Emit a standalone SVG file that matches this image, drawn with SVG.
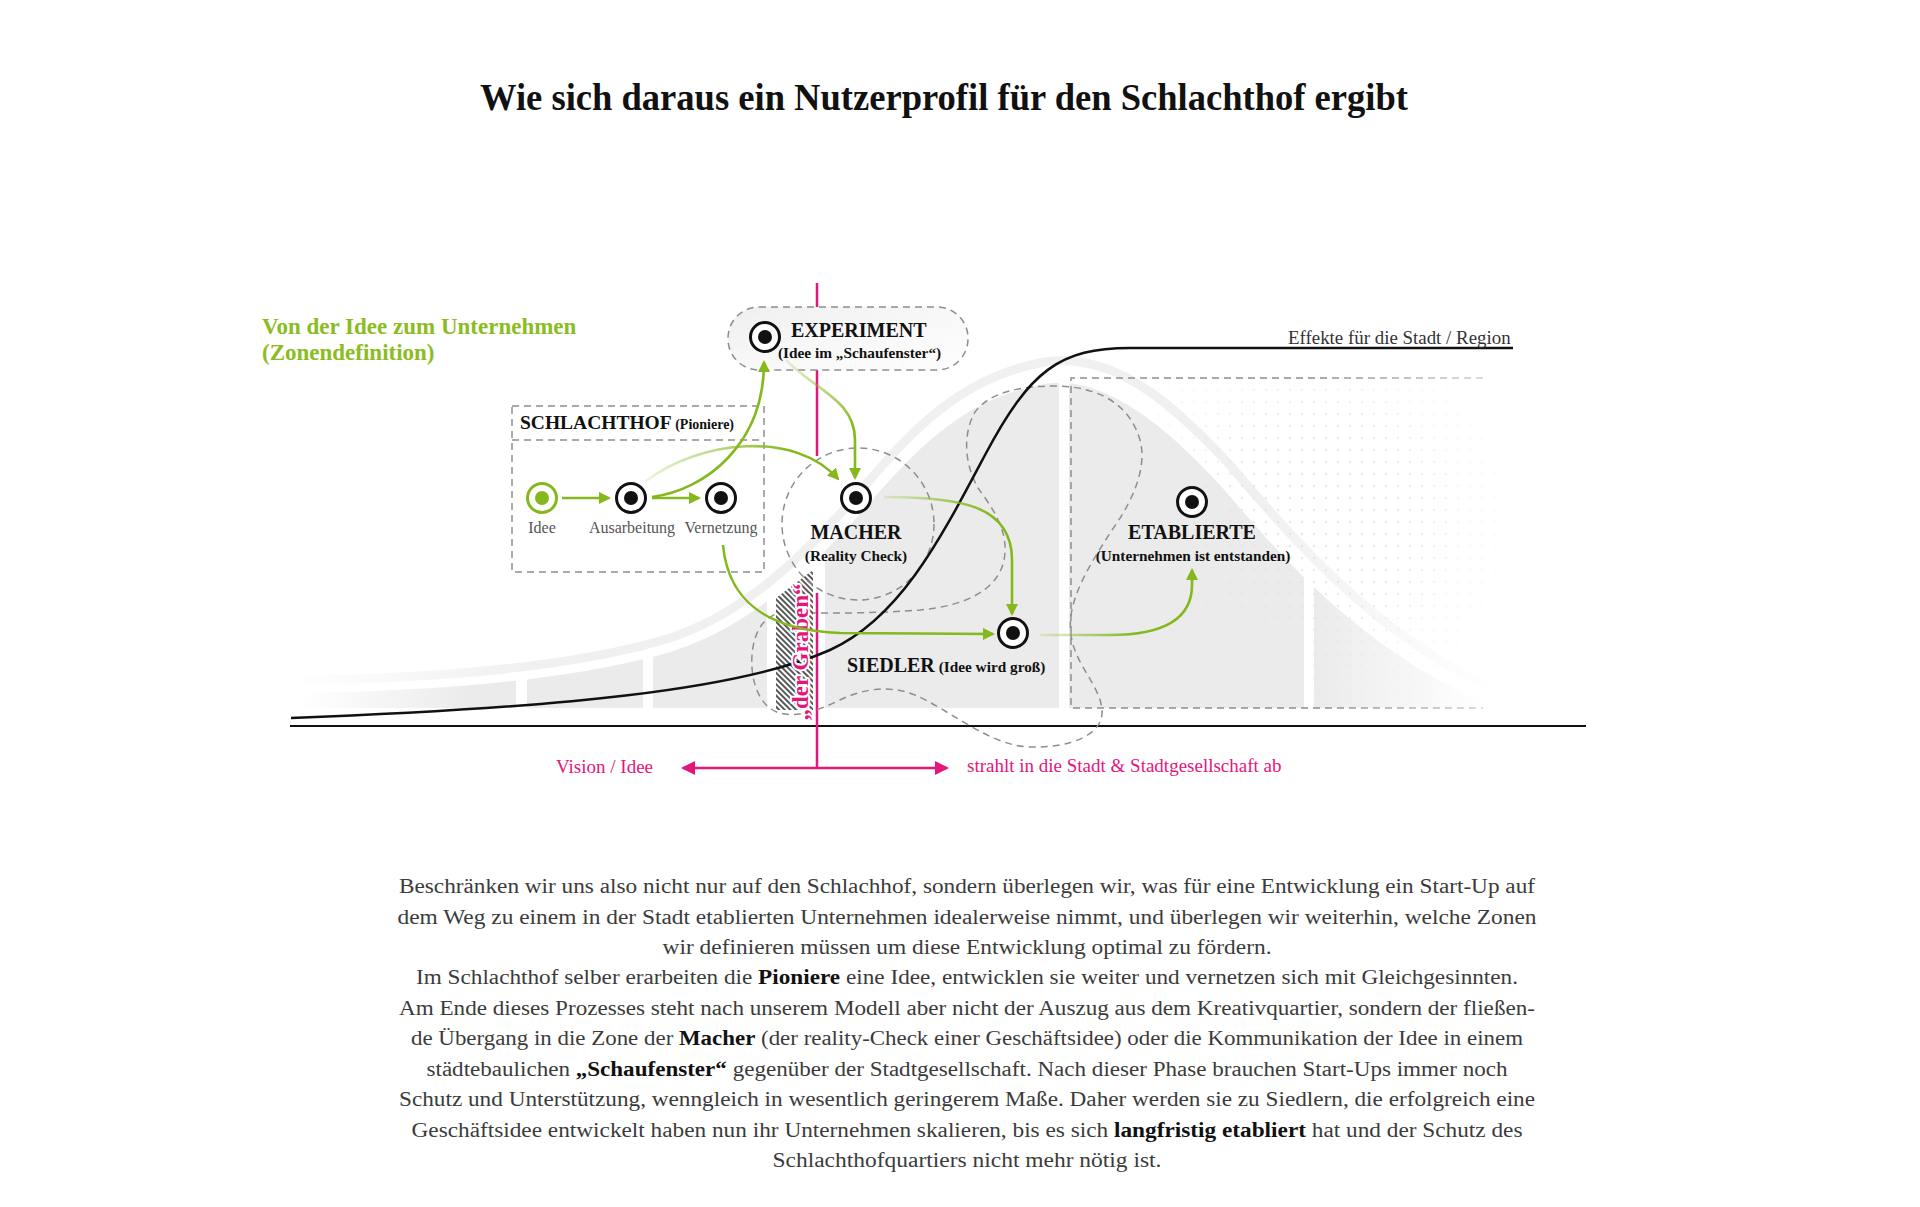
<svg xmlns="http://www.w3.org/2000/svg" width="1920" height="1207" viewBox="0 0 1920 1207">
<defs>
<style>
.dash{fill:none;stroke:#8e8e8e;stroke-width:1.5;stroke-dasharray:7 5}
.ring{fill:#fff;stroke:#111;stroke-width:3}
.dot{fill:#111}
.gring{fill:#fff;stroke:#84b81c;stroke-width:3}
.gdot{fill:#84b81c}
.conn{fill:none;stroke-width:2.6;marker-end:url(#ah)}
.serif{font-family:"Liberation Serif","DejaVu Serif",serif}
.lbl{font-family:"Liberation Serif","DejaVu Serif",serif;font-weight:700;fill:#111}
.big{font-size:20px}
.sub{font-size:15.3px}
.small{font-family:"Liberation Serif","DejaVu Serif",serif;font-size:16px;fill:#555}
.pinktxt{font-family:"Liberation Serif","DejaVu Serif",serif;font-size:19px;fill:#e5157b}
.body{font-family:"Liberation Serif","DejaVu Serif",serif;font-size:20.5px;fill:#3b3b3b}
.b{font-weight:700;fill:#111}
.col{fill:#ebebeb}
</style>
<marker id="ah" viewBox="0 0 12 12" refX="10" refY="6" markerWidth="12" markerHeight="12" markerUnits="userSpaceOnUse" orient="auto"><path d="M0,0 L12,6 L0,12 z" fill="#84b81c"/></marker>
<marker id="ap" viewBox="0 0 14 14" refX="12" refY="7" markerWidth="14" markerHeight="14" markerUnits="userSpaceOnUse" orient="auto-start-reverse"><path d="M0,0 L14,7 L0,14 z" fill="#e5157b"/></marker>
<linearGradient id="gAM" gradientUnits="userSpaceOnUse" x1="646" y1="0" x2="790" y2="0"><stop offset="0" stop-color="#84b81c" stop-opacity="0.15"/><stop offset="1" stop-color="#84b81c"/></linearGradient>
<linearGradient id="gEM" gradientUnits="userSpaceOnUse" x1="0" y1="360" x2="0" y2="425"><stop offset="0" stop-color="#84b81c" stop-opacity="0.15"/><stop offset="1" stop-color="#84b81c"/></linearGradient>
<linearGradient id="gMS" gradientUnits="userSpaceOnUse" x1="884" y1="0" x2="990" y2="0"><stop offset="0" stop-color="#84b81c" stop-opacity="0.15"/><stop offset="1" stop-color="#84b81c"/></linearGradient>
<linearGradient id="gSE" gradientUnits="userSpaceOnUse" x1="1040" y1="0" x2="1135" y2="0"><stop offset="0" stop-color="#84b81c" stop-opacity="0.15"/><stop offset="1" stop-color="#84b81c"/></linearGradient>
<linearGradient id="gCol1" gradientUnits="userSpaceOnUse" x1="300" y1="0" x2="470" y2="0"><stop offset="0" stop-color="#ebebeb" stop-opacity="0"/><stop offset="1" stop-color="#ebebeb"/></linearGradient>
<linearGradient id="gCol6" gradientUnits="userSpaceOnUse" x1="1314" y1="0" x2="1483" y2="0"><stop offset="0" stop-color="#ebebeb"/><stop offset="1" stop-color="#ebebeb" stop-opacity="0"/></linearGradient>
<linearGradient id="gHalo" gradientUnits="userSpaceOnUse" x1="290" y1="0" x2="1495" y2="0"><stop offset="0" stop-color="#f0f0f0" stop-opacity="0"/><stop offset="0.2" stop-color="#f0f0f0"/><stop offset="0.8" stop-color="#f0f0f0"/><stop offset="1" stop-color="#f0f0f0" stop-opacity="0"/></linearGradient>
<linearGradient id="gEtab" gradientUnits="userSpaceOnUse" x1="1071" y1="0" x2="1483" y2="0"><stop offset="0" stop-color="#8e8e8e"/><stop offset="0.6" stop-color="#8e8e8e"/><stop offset="1" stop-color="#d0d0d0"/></linearGradient>
<linearGradient id="gExp" x1="0" y1="0" x2="1" y2="1"><stop offset="0" stop-color="#efefef"/><stop offset="0.5" stop-color="#f8f8f8"/><stop offset="1" stop-color="#fdfdfd"/></linearGradient>
<radialGradient id="gDots" gradientUnits="userSpaceOnUse" cx="1310" cy="520" r="230"><stop offset="0" stop-color="#fff"/><stop offset="1" stop-color="#000"/></radialGradient>
<pattern id="dots" width="12" height="12" patternUnits="userSpaceOnUse"><circle cx="6" cy="6" r="1.2" fill="#e3e3e3"/></pattern>
<pattern id="hatch" width="4" height="4" patternUnits="userSpaceOnUse" patternTransform="rotate(-45)"><rect width="4" height="4" fill="#fff"/><line x1="1" y1="0" x2="1" y2="4" stroke="#2e2e2e" stroke-width="1.6"/></pattern>
<mask id="dotMask"><rect x="1080" y="370" width="420" height="345" fill="url(#gDots)"/></mask>
<clipPath id="bellClip"><path d="M290 693 C420 692,560 682,660 655 C730 636,790 590,850 525 C900 470,950 400,1045 384 C1100 375,1160 420,1220 485 C1280 555,1360 650,1490 705 L1490 708 L290 708 Z"/></clipPath>
</defs>
<rect width="1920" height="1207" fill="#fff"/>

<text x="944" y="110" text-anchor="middle" class="lbl" font-size="37" textLength="928" lengthAdjust="spacingAndGlyphs">Wie sich daraus ein Nutzerprofil für den Schlachthof ergibt</text>

<g id="heading" class="lbl" font-size="23" style="fill:#8bbd22">
<text x="262" y="334">Von der Idee zum Unternehmen</text>
<text x="262" y="360">(Zonendefinition)</text>
</g>

<g id="background">
<g clip-path="url(#bellClip)">
<rect x="300" y="360" width="216" height="350" fill="url(#gCol1)"/>
<rect class="col" x="527" y="360" width="116" height="350"/>
<rect class="col" x="653" y="360" width="114" height="350"/>
<rect class="col" x="825" y="360" width="234" height="350"/>
<rect class="col" x="1069" y="360" width="235" height="350"/>
<rect x="1314" y="360" width="170" height="350" fill="url(#gCol6)"/>
</g>
<path d="M290 680 C420 679,560 669,660 641 C730 621,788 573,848 505 C898 448,950 378,1045 362 C1110 353,1165 395,1228 463 C1290 535,1370 632,1495 690" fill="none" stroke="url(#gHalo)" stroke-width="9"/>
<rect x="1080" y="370" width="420" height="345" fill="url(#dots)" mask="url(#dotMask)"/>
</g>

<g id="axes">
<path d="M290 726 H1586" fill="none" stroke="#111" stroke-width="2.2"/>
<path d="M817 283 V456 M817 593 V768" fill="none" stroke="#e5157b" stroke-width="2.5"/>
<path d="M683 768 H947" fill="none" stroke="#e5157b" stroke-width="2.5" marker-start="url(#ap)" marker-end="url(#ap)"/>
</g>

<g id="zone-etablierte">
<path class="dash" d="M1483 378 H1071 V708 H1483" style="stroke:url(#gEtab)"/>
</g>
<g id="zone-siedler">
<path class="dash" d="M785 612 C830 614,880 613,920 610 C965 606,998 590,1004 560 C1010 530,990 505,978 488 C965 465,962 435,975 412 C990 392,1020 386,1057 386 C1100 387,1130 405,1140 440 C1148 470,1130 505,1112 530 C1090 565,1066 600,1071 635 C1075 665,1100 685,1102 710 C1104 735,1070 748,1030 747 C990 746,950 710,915 695 C890 685,865 688,840 700 C815 712,800 716,785 714 C762 712,750 685,752 655 C754 630,765 614,785 612 Z"/>
</g>
<g id="zone-graben">
<path d="M776 598 L813 570 L813 710 L776 710 Z" fill="url(#hatch)"/>
</g>
<g id="zone-macher">
<circle class="dash" cx="858" cy="524" r="76"/>
</g>
<g id="zone-schlachthof">
<rect class="dash" x="512" y="406" width="252" height="166"/>
<path class="dash" d="M512 440 H764"/>
<text x="520" y="429" class="lbl" font-size="19.5">SCHLACHTHOF<tspan font-size="14"> (Pioniere)</tspan></text>
</g>
<g id="zone-experiment">
<rect x="728" y="307" width="240" height="63" rx="31" class="dash" style="fill:url(#gExp)"/>
</g>

<g id="effekt-kurve">
<path d="M291 718 C560 708,740 690,830 650 C900 618,940 540,985 455 C1030 370,1060 348,1130 348 L1513 348" fill="none" stroke="#111" stroke-width="2.5"/>
<text x="1288" y="344" class="serif" font-size="18.9" fill="#333">Effekte für die Stadt / Region</text>
</g>

<g id="graben-label">
<text transform="translate(808,652) rotate(-90)" text-anchor="middle" class="lbl" font-size="23" style="fill:#e5157b" stroke="#fff" stroke-width="4" stroke-linejoin="round" paint-order="stroke">„der Graben“</text>
</g>

<g id="connectors">
<path class="conn" stroke="#84b81c" d="M562 498 H609"/>
<path class="conn" stroke="#84b81c" d="M652 498 H699"/>
<path class="conn" stroke="#84b81c" d="M652 497 C705 490,764 445,764 362"/>
<path class="conn" stroke="url(#gAM)" d="M646 481 C700 440,795 430,838 479"/>
<path class="conn" stroke="url(#gEM)" d="M786 360 C815 390,855 400,855 440 L855 478"/>
<path class="conn" stroke="url(#gMS)" d="M884 497 C960 497,1012 505,1012 560 L1012 614"/>
<path class="conn" stroke="#84b81c" d="M723 545 C728 600,765 630,840 633 L993 634"/>
<path class="conn" stroke="url(#gSE)" d="M1040 635 L1110 635 C1170 635,1192 615,1192 585 L1192 570"/>
</g>

<g id="node-idee">
<circle class="gring" cx="542" cy="498" r="14.5"/><circle class="gdot" cx="542" cy="498" r="7"/>
<text x="542" y="533" text-anchor="middle" class="small">Idee</text>
</g>
<g id="node-ausarbeitung">
<circle class="ring" cx="631" cy="498" r="14.5"/><circle class="dot" cx="631" cy="498" r="7"/>
<text x="632" y="533" text-anchor="middle" class="small">Ausarbeitung</text>
</g>
<g id="node-vernetzung">
<circle class="ring" cx="721" cy="498" r="14.5"/><circle class="dot" cx="721" cy="498" r="7"/>
<text x="721" y="533" text-anchor="middle" class="small">Vernetzung</text>
</g>
<g id="node-experiment">
<circle class="ring" cx="765" cy="337" r="14.5"/><circle class="dot" cx="765" cy="337" r="7"/>
<text x="791" y="337" class="lbl big">EXPERIMENT</text>
<text x="778" y="358" class="lbl sub">(Idee im „Schaufenster“)</text>
</g>
<g id="node-macher">
<circle class="ring" cx="856" cy="498" r="14.5"/><circle class="dot" cx="856" cy="498" r="7"/>
<text x="856" y="539" text-anchor="middle" class="lbl big">MACHER</text>
<text x="856" y="561" text-anchor="middle" class="lbl sub">(Reality Check)</text>
</g>
<g id="node-siedler">
<circle class="ring" cx="1013" cy="633" r="14.5"/><circle class="dot" cx="1013" cy="633" r="7"/>
<text x="847" y="672" class="lbl big">SIEDLER<tspan class="sub"> (Idee wird groß)</tspan></text>
</g>
<g id="node-etablierte">
<circle class="ring" cx="1192" cy="502" r="14.5"/><circle class="dot" cx="1192" cy="502" r="7"/>
<text x="1192" y="539" text-anchor="middle" class="lbl big">ETABLIERTE</text>
<text x="1193" y="561" text-anchor="middle" class="lbl sub">(Unternehmen ist entstanden)</text>
</g>

<g id="axis-labels">
<text x="556" y="773" class="pinktxt">Vision / Idee</text>
<text x="967" y="772" class="pinktxt">strahlt in die Stadt &amp; Stadtgesellschaft ab</text>
</g>

<g id="body-text" text-anchor="middle">
<text class="body" x="967" y="893" textLength="1136" lengthAdjust="spacingAndGlyphs">Beschränken wir uns also nicht nur auf den Schlachhof, sondern überlegen wir, was für eine Entwicklung ein Start-Up auf</text>
<text class="body" x="967" y="923.5" textLength="1139" lengthAdjust="spacingAndGlyphs">dem Weg zu einem in der Stadt etablierten Unternehmen idealerweise nimmt, und überlegen wir weiterhin, welche Zonen</text>
<text class="body" x="967" y="954" textLength="609" lengthAdjust="spacingAndGlyphs">wir definieren müssen um diese Entwicklung optimal zu fördern.</text>
<text class="body" x="967" y="984.4" textLength="1102" lengthAdjust="spacingAndGlyphs">Im Schlachthof selber erarbeiten die <tspan class="b">Pioniere</tspan> eine Idee, entwicklen sie weiter und vernetzen sich mit Gleichgesinnten.</text>
<text class="body" x="967" y="1014.8" textLength="1136" lengthAdjust="spacingAndGlyphs">Am Ende dieses Prozesses steht nach unserem Modell aber nicht der Auszug aus dem Kreativquartier, sondern der fließen-</text>
<text class="body" x="967" y="1045.3" textLength="1112" lengthAdjust="spacingAndGlyphs">de Übergang in die Zone der <tspan class="b">Macher</tspan> (der reality-Check einer Geschäftsidee) oder die Kommunikation der Idee in einem</text>
<text class="body" x="967" y="1075.7" textLength="1081" lengthAdjust="spacingAndGlyphs">städtebaulichen <tspan class="b">„Schaufenster“</tspan> gegenüber der Stadtgesellschaft. Nach dieser Phase brauchen Start-Ups immer noch</text>
<text class="body" x="967" y="1106.2" textLength="1136" lengthAdjust="spacingAndGlyphs">Schutz und Unterstützung, wenngleich in wesentlich geringerem Maße. Daher werden sie zu Siedlern, die erfolgreich eine</text>
<text class="body" x="967" y="1136.6" textLength="1111" lengthAdjust="spacingAndGlyphs">Geschäftsidee entwickelt haben nun ihr Unternehmen skalieren, bis es sich <tspan class="b">langfristig etabliert</tspan> hat und der Schutz des</text>
<text class="body" x="967" y="1167" textLength="389" lengthAdjust="spacingAndGlyphs">Schlachthofquartiers nicht mehr nötig ist.</text>
</g>
</svg>
